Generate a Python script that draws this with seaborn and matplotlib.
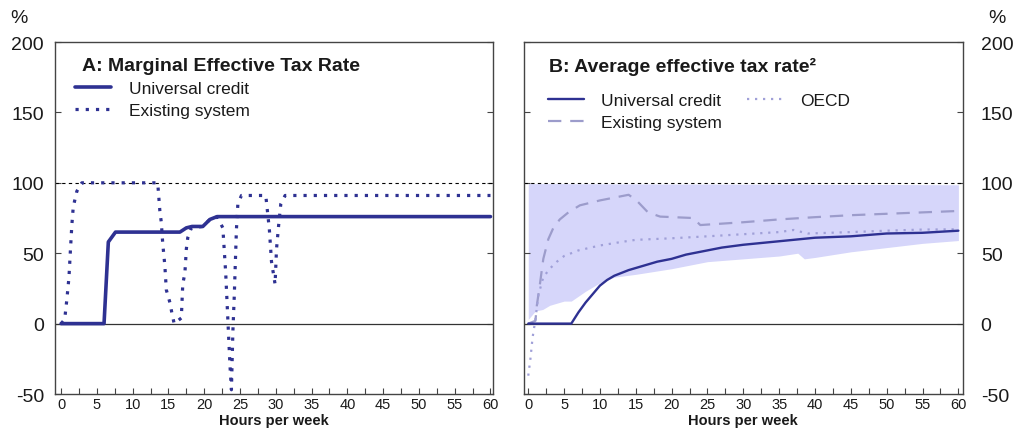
import numpy as np
import matplotlib
matplotlib.use("Agg")
import matplotlib.pyplot as plt
from matplotlib.ticker import MultipleLocator
import seaborn as sns

# ---------------- data ----------------
# Panel A: marginal effective tax rate
a_uc_hours = [0, 6, 6.6, 7.6, 16.6, 17.5, 18.3, 19.8, 20.8, 21.8, 60]
a_uc_rate = [0, 0, 58, 65, 65, 68, 69, 69, 74, 76, 76]

a_ex_hours = [0, 0.5, 0.8, 1.1, 1.3, 1.5, 1.7, 2.2, 2.9, 13.5, 13.8, 14.0, 14.2,
              14.5, 14.7, 15.2, 15.5, 15.8, 16.8, 17.0, 17.3, 17.5, 17.7, 18.2,
              19.8, 20.8, 21.8, 22.6, 23.0, 23.3, 23.6, 23.8, 24.0, 24.2, 24.5,
              24.7, 25.2, 28.6, 29.1, 29.4, 29.9, 30.1, 30.4, 30.7, 31.3, 60]
a_ex_rate = [0, 3, 17, 33, 52, 70, 83, 94, 100, 100, 80, 72, 57,
             41, 24, 15, 7, 0, 4, 28, 36, 53, 61, 68,
             69, 74, 76, 68, 36, 3, -30, -47, -6, 20, 67,
             85, 91, 91, 67, 44, 28, 53, 70, 85, 91, 91]

# Panel B: average effective tax rate
b_uc_hours = [0, 6, 7, 8, 9, 10, 11, 12, 14, 16, 18, 20, 22, 25, 27, 30, 35,
              40, 45, 50, 55, 60]
b_uc_rate = [0, 0, 8, 15, 21, 27, 31, 34, 38, 41, 44, 46, 49, 52, 54, 56, 58.5,
             61, 62, 64, 64.5, 66]

b_ex_hours = [0, 1, 1.2, 1.6, 2.1, 2.8, 3.5, 4.4, 5.6, 7.2, 10, 14, 15.1, 16.7,
              18.4, 23, 24, 30, 35, 40, 45, 50, 55, 60]
b_ex_rate = [0, 2, 13, 27, 46, 60, 68, 74, 79, 84, 87.5, 91.5, 87.5, 79,
             76, 75, 70, 72, 74, 75.6, 77, 78, 79, 80]

b_oecd_hours = [0, 0.3, 0.6, 1, 1.4, 2.1, 3, 4, 5, 7, 10, 13, 15, 20, 25, 30,
                35, 37, 39, 45, 50, 55, 60]
b_oecd_rate = [-37, -25, -10, 3, 20, 33, 39, 44, 48, 52, 55.5, 58, 59.5, 60.6,
               62, 63.5, 65, 66.5, 64, 65, 66, 66.8, 67]

b_band_hours = [0, 1, 2, 3, 5, 6, 8, 10, 12, 15, 20, 25, 30, 35, 37.6, 38.5,
                40, 45, 50, 55, 60]
b_band_low = [3, 9, 10, 13, 16, 16, 23, 29, 33, 35, 39, 44, 46, 48, 50, 46,
              47, 51, 54, 57, 59]
b_band_high = [99.4, 99.4, 99.4, 99.4, 99.4, 99.3, 99.3, 99.3, 99.2, 99.2, 99.1,
               99.1, 99.0, 99.0, 99.0, 99.0, 98.9, 98.8, 98.8, 98.7, 98.6]

y_ticks = [-50, 0, 50, 100, 150, 200]
x_label = "Hours per week"
title_a = "A: Marginal Effective Tax Rate"
title_b = "B: Average effective tax rate\u00b2"

# ---------------- style ----------------
sns.set_style("white")
plt.rcParams["font.family"] = ["Liberation Sans", "DejaVu Sans"]
plt.rcParams["axes.unicode_minus"] = False

NAVY = "#2E3192"
LIGHT_DASH = "#9C9CCB"
LIGHT_DOT = "#A0A0D8"
SHADE = "#D6D6FA"
SPINE = "#444444"
TEXT = "#1a1a1a"

fig = plt.figure(figsize=(10.17, 4.31), dpi=100)
ax_a = fig.add_axes([0.0541, 0.0835, 0.4310, 0.8167])
ax_b = fig.add_axes([0.5152, 0.0835, 0.4314, 0.8167])

# ---------------- panel A ----------------
ax_a.axhline(100, color="black", lw=0.8, linestyle=(0, (3, 3)), zorder=1)
ax_a.axhline(0, color="#333333", lw=0.9, zorder=1)
sns.lineplot(x=a_ex_hours, y=a_ex_rate, ax=ax_a, color=NAVY, lw=2.3,
             linestyle=(0, (1, 2.2)), estimator=None, sort=False,
             label="Existing system", zorder=3)
sns.lineplot(x=a_uc_hours, y=a_uc_rate, ax=ax_a, color=NAVY, lw=2.6,
             estimator=None, sort=False, label="Universal credit", zorder=4)

# ---------------- panel B ----------------
ax_b.fill_between(b_band_hours, b_band_low, b_band_high, color=SHADE, lw=0,
                  zorder=0)
ax_b.axhline(100, color="black", lw=0.8, linestyle=(0, (3, 3)), zorder=1)
ax_b.axhline(0, color="#333333", lw=0.9, zorder=1)
sns.lineplot(x=b_uc_hours, y=b_uc_rate, ax=ax_b, color=NAVY, lw=1.7,
             estimator=None, sort=False, label="Universal credit", zorder=4)
sns.lineplot(x=b_ex_hours, y=b_ex_rate, ax=ax_b, color=LIGHT_DASH, lw=1.6,
             linestyle=(0, (6, 4)), estimator=None, sort=False,
             label="Existing system", zorder=3)
sns.lineplot(x=b_oecd_hours, y=b_oecd_rate, ax=ax_b, color=LIGHT_DOT, lw=1.6,
             linestyle=(0, (1, 2.6)), estimator=None, sort=False,
             label="OECD", zorder=3)

# ---------------- axes formatting ----------------
for ax, xl in ((ax_a, (-0.85, 60.4)), (ax_b, (-0.6, 60.6))):
    ax.set_xlim(*xl)
    ax.set_ylim(-50, 200)
    ax.set_yticks(y_ticks)
    ax.xaxis.set_major_locator(MultipleLocator(5))
    ax.xaxis.set_minor_locator(MultipleLocator(2.5))
    for s in ax.spines.values():
        s.set_visible(True)
        s.set_color(SPINE)
        s.set_linewidth(1.0)
    ax.tick_params(axis="x", which="both", direction="in", length=4,
                   width=0.8, color=SPINE, labelsize=10.5, pad=2.5,
                   bottom=True, top=False, labelcolor=TEXT)
    ax.tick_params(axis="y", which="both", direction="in", length=4,
                   width=0.8, color=SPINE, labelsize=14, left=True,
                   right=True, labelcolor=TEXT)
    ax.set_xlabel(x_label, fontsize=10.5, fontweight="bold", labelpad=1,
                  color=TEXT)
    ax.set_ylabel("")
    ax.grid(False)

ax_a.tick_params(axis="y", labelleft=True, labelright=False, pad=8)
ax_b.tick_params(axis="y", labelleft=False, labelright=True, pad=13)

# titles inside panels
ax_a.text(0.061, 0.932, title_a, transform=ax_a.transAxes, fontsize=14,
          fontweight="bold", va="center", ha="left", color=TEXT)
ax_b.text(0.057, 0.933, title_b, transform=ax_b.transAxes, fontsize=14,
          fontweight="bold", va="center", ha="left", color=TEXT)

# legends
h, l = ax_a.get_legend_handles_labels()
order = [l.index("Universal credit"), l.index("Existing system")]
leg = ax_a.legend([h[i] for i in order], [l[i] for i in order],
                  loc="upper left", bbox_to_anchor=(0.045, 0.89),
                  frameon=False, fontsize=12.5, handlelength=2.1,
                  handletextpad=1.0, labelspacing=0.38, borderpad=0,
                  borderaxespad=0)
for t in leg.get_texts():
    t.set_color(TEXT)

h, l = ax_b.get_legend_handles_labels()
order = [l.index("Universal credit"), l.index("Existing system"),
         l.index("OECD")]
leg = ax_b.legend([h[i] for i in order], [l[i] for i in order],
                  loc="upper left", bbox_to_anchor=(0.054, 0.855),
                  frameon=False, fontsize=12.5, ncol=2, handlelength=2.1,
                  handletextpad=1.0, labelspacing=0.38, columnspacing=1.4,
                  borderpad=0, borderaxespad=0)
for t in leg.get_texts():
    t.set_color(TEXT)

# percent unit labels
fig.text(18.5 / 1017, 1 - 18.5 / 431, "%", fontsize=14, ha="center",
         va="center", color=TEXT)
fig.text(997 / 1017, 1 - 18.5 / 431, "%", fontsize=14, ha="center",
         va="center", color=TEXT)

fig.savefig("out.png", dpi=100)
